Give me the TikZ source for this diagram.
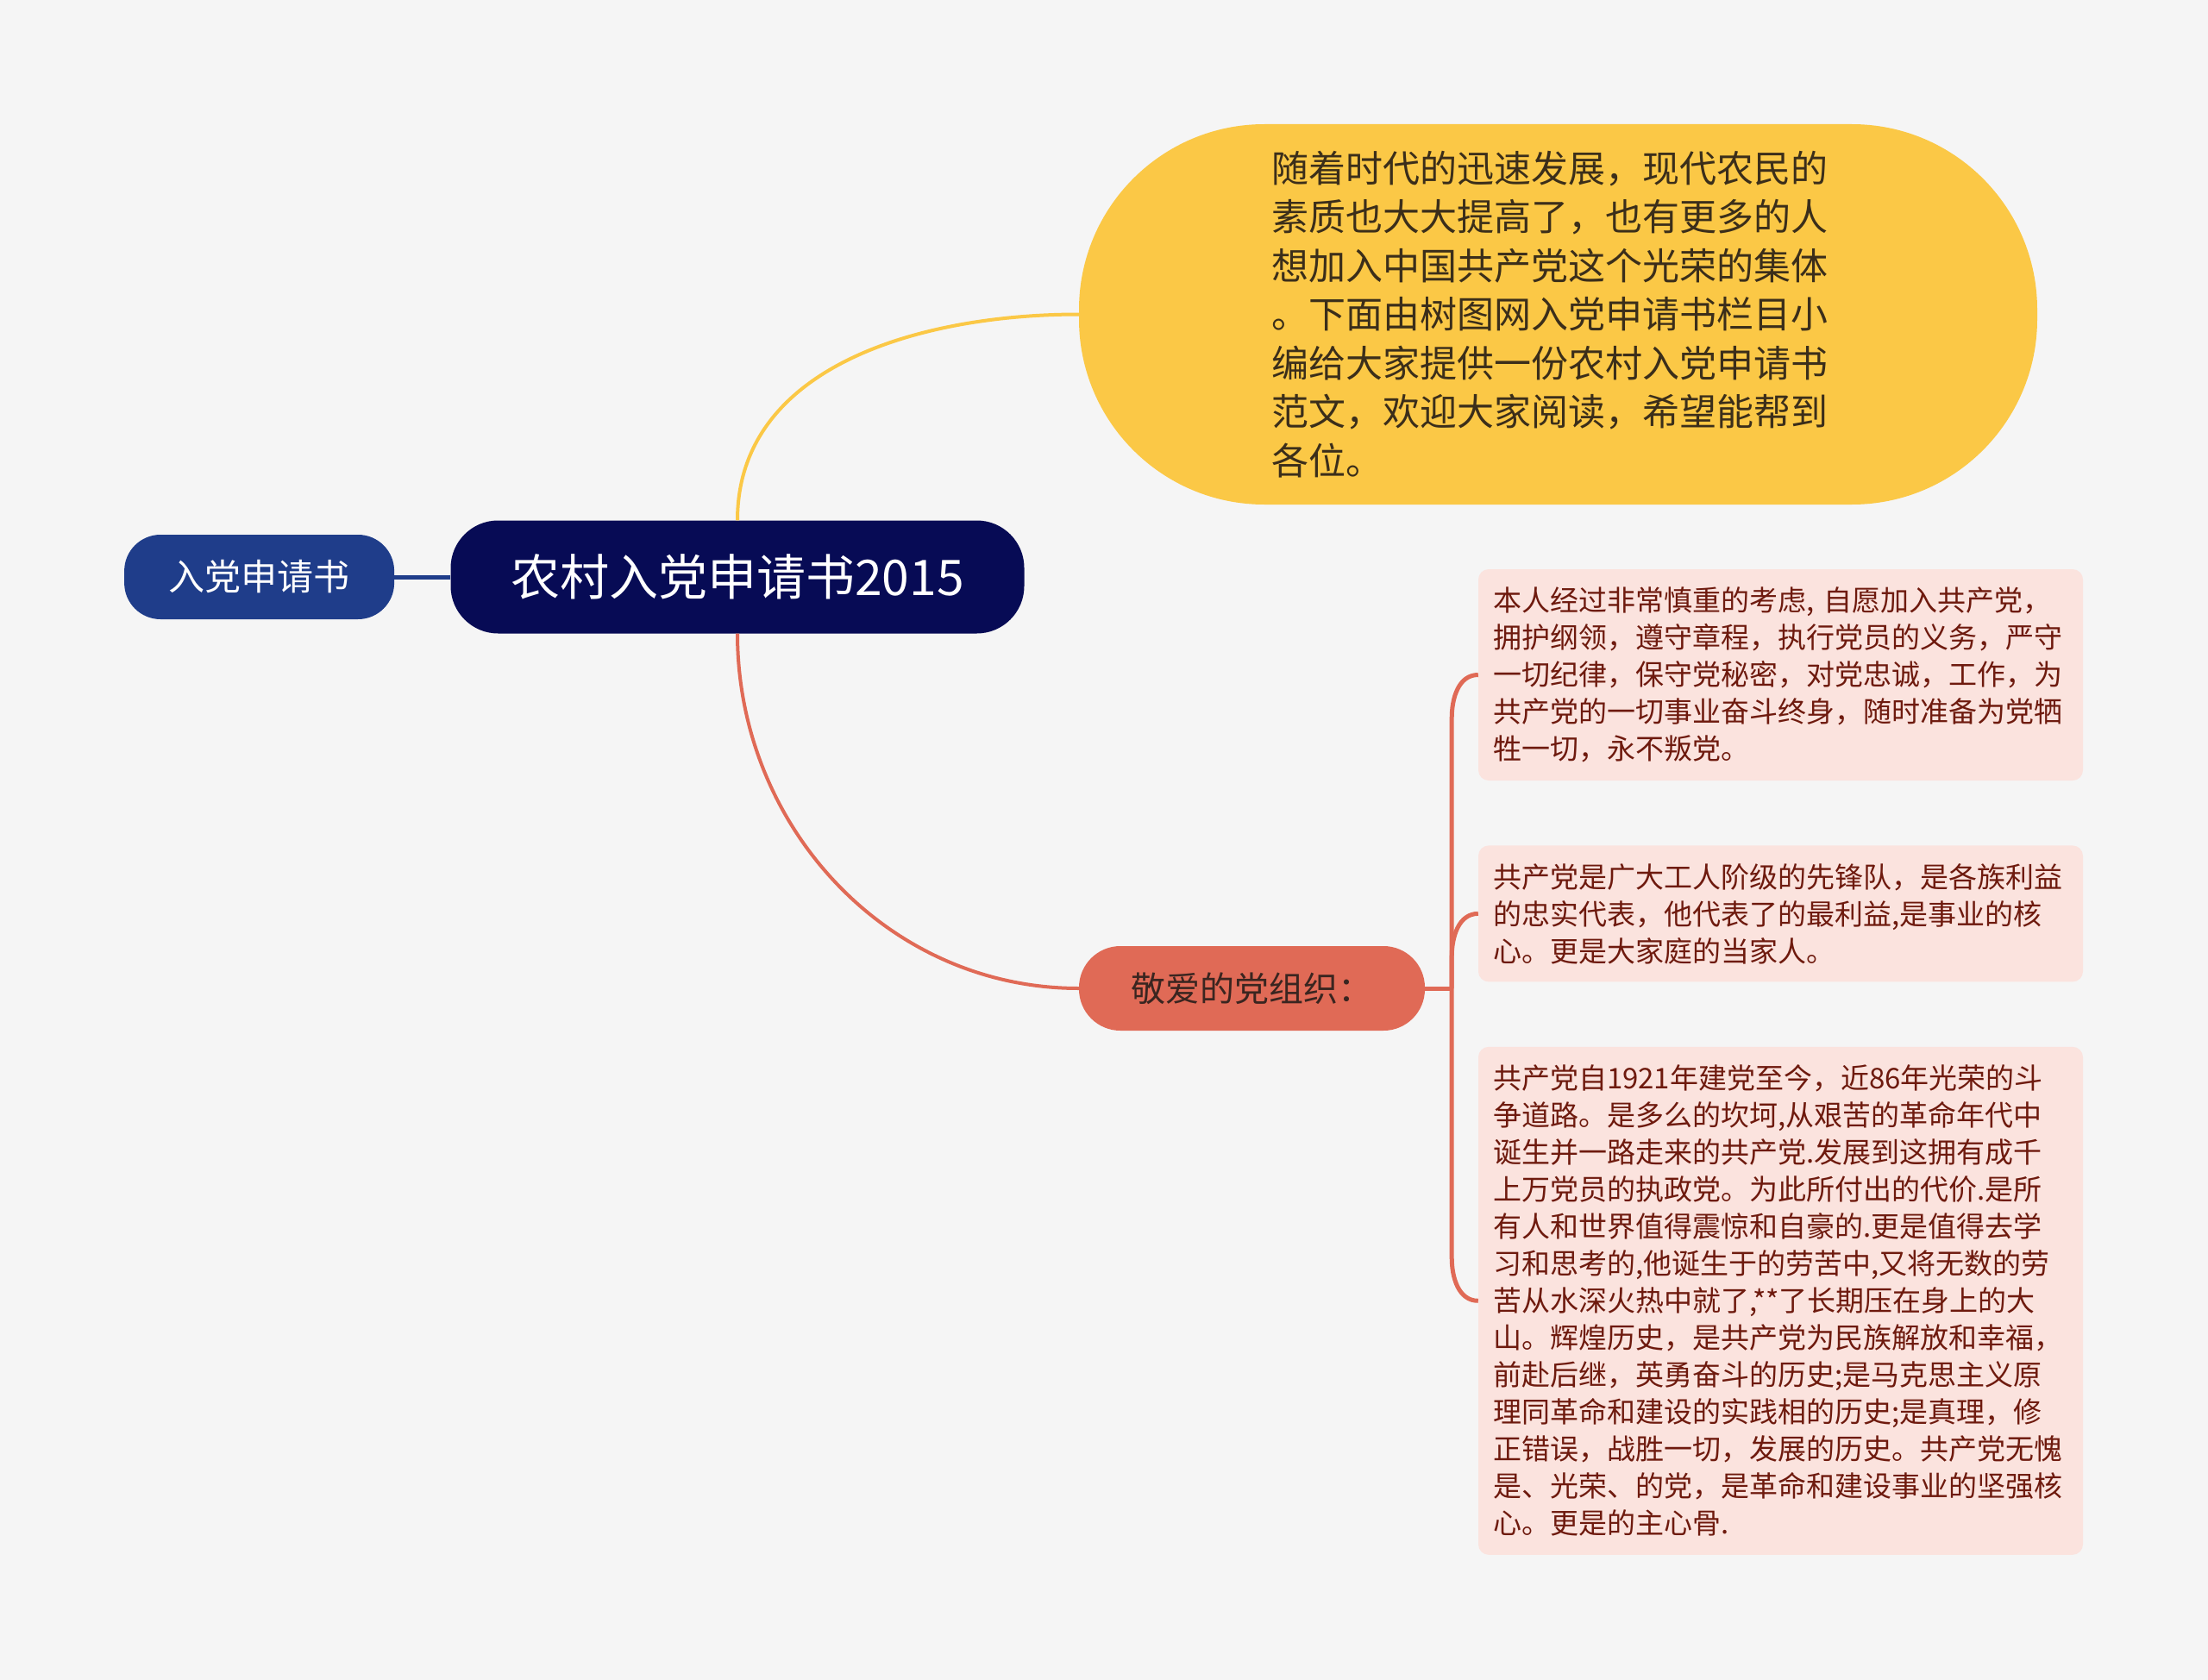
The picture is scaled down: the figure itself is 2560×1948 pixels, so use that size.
\documentclass[tikz,border=0pt]{standalone}
\usepackage{fontspec}
\setmainfont{Noto Sans CJK SC}
\usepackage{tikz}
\usetikzlibrary{positioning,calc}
\definecolor{canvas}{HTML}{F5F5F5}
\definecolor{navy}{HTML}{070B55}
\definecolor{tagblue}{HTML}{1F3D8A}
\definecolor{sun}{HTML}{FBC846}
\definecolor{suntext}{HTML}{3B2E1A}
\definecolor{coral}{HTML}{E06A56}
\definecolor{coraltext}{HTML}{3A2520}
\definecolor{blush}{HTML}{FBE3DE}
\definecolor{leaftext}{HTML}{6E1A0E}

\begin{document}
\begin{tikzpicture}[x=1pt,y=-1pt,
  root/.style={fill=navy,rounded corners=55pt,minimum width=665pt,
    minimum height=131pt,text=white,font=\fontsize{57pt}{68pt}\selectfont},
  tag/.style={fill=tagblue,rounded corners=42pt,minimum width=313pt,
    minimum height=98pt,text=white,font=\fontsize{42pt}{50pt}\selectfont},
  intro/.style={fill=sun,rounded corners=215pt,minimum width=1111pt,
    minimum height=441pt,text=suntext,align=left,text width=665pt,
    font=\fontsize{43pt}{56.5pt}\selectfont},
  branch/.style={fill=coral,rounded corners=48pt,minimum width=401pt,
    minimum height=98pt,text=coraltext,font=\fontsize{40pt}{48pt}\selectfont},
  leaf/.style={fill=blush,rounded corners=12pt,text width=667pt,inner xsep=17pt,
    inner ysep=4pt,align=left,text=leaftext,font=\fontsize{33pt}{43pt}\selectfont},
  edge/.style={line width=4pt}
]
\fill[canvas] (0,0) rectangle (2560,1948);

\node[root] (main) at (855,669) {农村入党申请书2015};
\node[tag,left=65pt of main] (apply) {入党申请书};
\node[intro] (preface) at (1806.5,364.5)
  {随着时代的迅速发展，现代农民的\\素质也大大提高了，也有更多的人\\
   想加入中国共产党这个光荣的集体\\。下面由树图网入党申请书栏目小\\
   编给大家提供一份农村入党申请书\\范文，欢迎大家阅读，希望能帮到\\各位。};
\node[branch] (org) at (1451.5,1146) {敬爱的党组织：};

\node[leaf,minimum height=245pt] (oath) at (2064.5,782.5)
  {本人经过非常慎重的考虑, 自愿加入共产党，\\拥护纲领，遵守章程，执行党员的义务，严守\\
   一切纪律，保守党秘密，对党忠诚，工作，为\\共产党的一切事业奋斗终身，随时准备为党牺\\
   牲一切，永不叛党。};
\node[leaf,minimum height=158pt,below=75pt of oath] (vanguard)
  {共产党是广大工人阶级的先锋队，是各族利益\\的忠实代表，他代表了的最利益,是事业的核\\
   心。更是大家庭的当家人。};
\node[leaf,minimum height=589pt,below=75pt of vanguard] (history)
  {共产党自1921年建党至今，近86年光荣的斗\\争道路。是多么的坎坷,从艰苦的革命年代中\\
   诞生并一路走来的共产党.发展到这拥有成千\\上万党员的执政党。为此所付出的代价.是所\\
   有人和世界值得震惊和自豪的.更是值得去学\\习和思考的,他诞生于的劳苦中,又将无数的劳\\
   苦从水深火热中就了,**了长期压在身上的大\\山。辉煌历史，是共产党为民族解放和幸福，\\
   前赴后继，英勇奋斗的历史;是马克思主义原\\理同革命和建设的实践相的历史;是真理，修\\
   正错误，战胜一切，发展的历史。共产党无愧\\是、光荣、的党，是革命和建设事业的坚强核\\
   心。更是的主心骨.};

% connectors
\draw[draw=tagblue,line width=5pt] (apply.east) -- (main.west);
\draw[edge,draw=sun] (main.north) to[out=90,in=180] (preface.west);
\draw[edge,draw=coral] (main.south) to[out=-90,in=180] (org.west);
\coordinate (fork) at ($(org.east)+(31,0)$);
\draw[edge,draw=coral,line width=5pt] (org.east) -- (fork);
\foreach \leafname/\off/\ang in {oath/50/90,vanguard/50/90,history/-50/-90}
  \draw[edge,draw=coral,line width=5pt] (fork) -- ($(fork |- \leafname.west)+(0,\off)$)
    to[out=\ang,in=180] (\leafname.west);
\end{tikzpicture}
\end{document}
